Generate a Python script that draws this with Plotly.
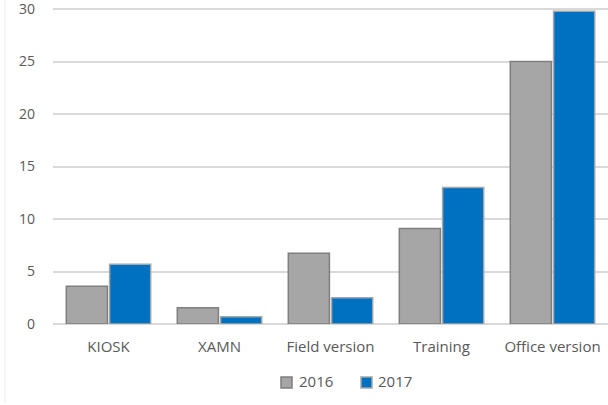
import plotly.graph_objects as go

categories = ["KIOSK", "XAMN", "Field version", "Training", "Office version"]
values_2016 = [3.6, 1.55, 6.75, 9.1, 25.0]
values_2017 = [5.7, 0.7, 2.5, 13.0, 29.8]
y_ticks = [0, 5, 10, 15, 20, 25, 30]
series_names = ["2016", "2017"]
fill_colors = ["#A6A6A6", "#0070C0"]
edge_colors = ["#7F7F7F", "#A6A6A6"]

fig = go.Figure()
for name, vals, fc, ec in zip(series_names, [values_2016, values_2017], fill_colors, edge_colors):
    fig.add_trace(go.Bar(
        name=name, x=categories, y=vals, showlegend=False,
        marker=dict(color=fc, line=dict(color=ec, width=1.5)),
    ))

# plot area in pixels: left 53, right 608, top 7, bottom 324
def px_x(p):
    return (p - 53) / 555.0

def px_y(p):
    return (324 - p) / 317.0

shapes = [dict(type="line", xref="paper", yref="paper", x0=px_x(5), x1=px_x(5),
               y0=1.05, y1=px_y(402), line=dict(color="#EEEEEE", width=1))]
annotations = []
legend_swatch_x = [281, 361]
legend_text_x = [297, 376]
for name, fc, ec, sx, tx in zip(series_names, fill_colors, edge_colors, legend_swatch_x, legend_text_x):
    shapes.append(dict(type="rect", xref="paper", yref="paper",
                       x0=px_x(sx), x1=px_x(sx + 11), y0=px_y(388), y1=px_y(377),
                       fillcolor=fc, line=dict(color=ec, width=1.5)))
    annotations.append(dict(text=name, xref="paper", yref="paper", x=px_x(tx), y=px_y(381),
                            xanchor="left", yanchor="middle", showarrow=False,
                            font=dict(family="Open Sans", size=15, color="#595959")))

fig.update_layout(
    width=608, height=405,
    margin=dict(l=53, r=0, t=7, b=81, autoexpand=False),
    paper_bgcolor="white", plot_bgcolor="white",
    barmode="group", bargap=0.22, bargroupgap=0.05,
    font=dict(family="Open Sans", size=15, color="#595959"),
    showlegend=False,
    xaxis=dict(showgrid=False, ticks="", showline=False, ticklabelstandoff=12,
               automargin=False, tickfont=dict(size=15, color="#595959")),
    yaxis=dict(range=[0, 30.2], tickvals=y_ticks, showgrid=True, gridcolor="#D9D9D9",
               gridwidth=1.5, zeroline=True, zerolinecolor="#D9D9D9", zerolinewidth=2,
               ticks="", ticklabelstandoff=17, automargin=False, ticklabeloverflow="allow",
               tickfont=dict(size=14, color="#595959")),
    shapes=shapes,
    annotations=annotations,
)

fig.write_html("out.html", config={"displayModeBar": False},
               post_script="document.body.style.margin='0';")
